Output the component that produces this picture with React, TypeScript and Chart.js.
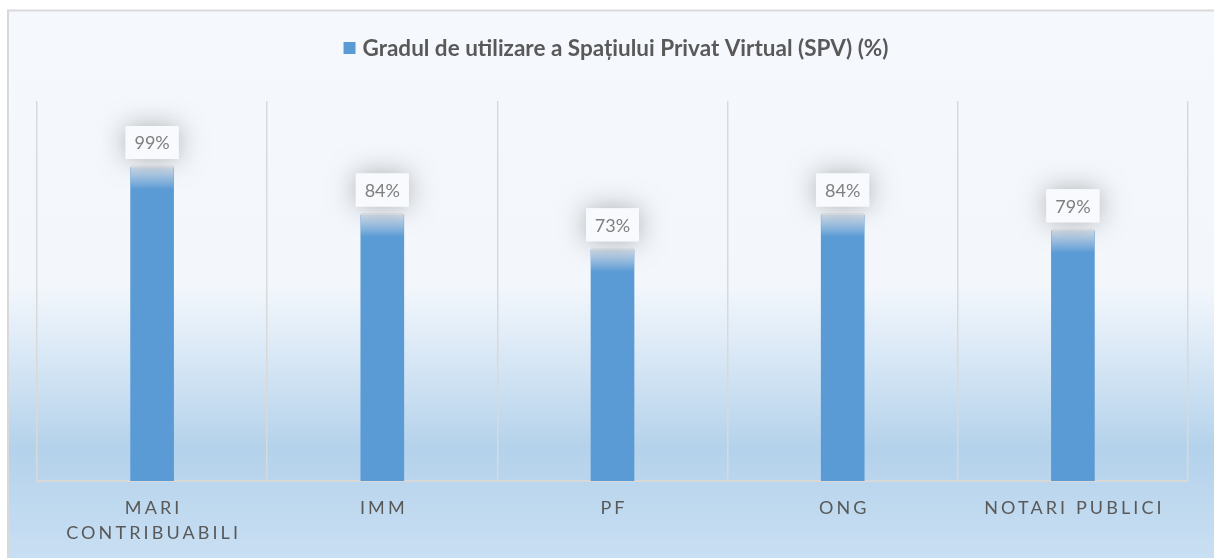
import React, { useEffect, useRef } from "react";
import { Chart, registerables } from "chart.js";

Chart.register(...registerables);

const categories = ["MARI CONTRIBUABILI", "IMM", "PF", "ONG", "NOTARI PUBLICI"];
const values = [99, 84, 73, 84, 79];
const seriesLabel = "Gradul de utilizare a Spațiului Privat Virtual (SPV) (%)";
const valueSuffix = "%";

const BLUE = "#5b9bd5";
const GRID = "#d9d9d9";
const TEXT = "#595959";

const bgPlugin = {
  id: "bgFrame",
  beforeDraw(chart: any) {
    const { ctx, width, height } = chart;
    ctx.save();
    const g = ctx.createLinearGradient(0, 11, 0, height);
    g.addColorStop(0, "#f5f9fd");
    g.addColorStop(0.5, "#f3f7fc");
    g.addColorStop(0.62, "#dbe9f6");
    g.addColorStop(0.8, "#b4d2eb");
    g.addColorStop(1, "#c9dff3");
    ctx.fillStyle = g;
    ctx.fillRect(8, 11, width - 8, height - 11);
    ctx.strokeStyle = GRID;
    ctx.lineWidth = 2;
    ctx.beginPath();
    ctx.moveTo(8, height);
    ctx.lineTo(8, 10.5);
    ctx.lineTo(width, 10.5);
    ctx.stroke();
    ctx.restore();
  },
};

const labelsPlugin = {
  id: "valueLabels",
  afterDatasetsDraw(chart: any) {
    const { ctx } = chart;
    const meta = chart.getDatasetMeta(0);
    const ds = chart.data.datasets[0];
    meta.data.forEach((el: any, i: number) => {
      const x = el.x;
      const y = el.y;
      ctx.save();
      // fade at bar top
      const fg = ctx.createLinearGradient(0, y - 2, 0, y + 22);
      fg.addColorStop(0, "rgba(228,232,238,0.95)");
      fg.addColorStop(1, "rgba(228,232,238,0)");
      ctx.fillStyle = fg;
      ctx.fillRect(x - el.width / 2, y - 2, el.width, 24);
      // box with glow
      const bw = 53;
      const bh = 33;
      const cy = y - 25;
      ctx.shadowColor = "rgba(0,0,0,0.3)";
      ctx.shadowBlur = 26;
      ctx.fillStyle = "#f8fafd";
      ctx.fillRect(x - bw / 2, cy - bh / 2, bw, bh);
      ctx.shadowBlur = 0;
      ctx.shadowColor = "transparent";
      ctx.fillRect(x - bw / 2, cy - bh / 2, bw, bh);
      ctx.fillStyle = "#7f7f7f";
      ctx.font = "18px Lato";
      ctx.textAlign = "center";
      ctx.textBaseline = "middle";
      ctx.fillText(ds.data[i] + valueSuffix, x, cy + 1);
      ctx.restore();
    });
  },
  afterDraw(chart: any) {
    const { ctx, chartArea } = chart;
    const xScale = chart.scales.x;
    ctx.save();
    // x labels with letter spacing
    const spacing = 3.1;
    ctx.font = "18px Lato";
    (ctx as any).letterSpacing = spacing + "px";
    ctx.fillStyle = TEXT;
    ctx.textBaseline = "middle";
    ctx.textAlign = "left";
    const catW = (chartArea.right - chartArea.left) / categories.length;
    const measure = (s: string) => ctx.measureText(s).width - spacing;
    (chart.data.labels as string[]).forEach((lab: string, i: number) => {
      const words = lab.split(" ");
      const lines: string[] = [];
      let cur = "";
      words.forEach((w) => {
        const t = cur ? cur + " " + w : w;
        if (measure(t) > catW - 4 && cur) {
          lines.push(cur);
          cur = w;
        } else cur = t;
      });
      if (cur) lines.push(cur);
      const x = xScale.getPixelForValue(i);
      lines.forEach((ln, k) => {
        const w = measure(ln);
        ctx.fillText(ln, x - w / 2, 508 + k * 25);
      });
    });
    (ctx as any).letterSpacing = "0px";
    // title legend
    ctx.font = "bold 22.5px Lato";
    const tw = ctx.measureText(seriesLabel).width;
    const box = 12;
    const gap = 7;
    const total = box + gap + tw;
    const cx = 616;
    const sx = cx - total / 2;
    ctx.fillStyle = BLUE;
    ctx.fillRect(sx, 42, box, box);
    ctx.fillStyle = TEXT;
    ctx.textBaseline = "middle";
    ctx.fillText(seriesLabel, sx + box + gap, 49);
    ctx.restore();
  },
};

export default function App() {
  const ref = useRef<HTMLCanvasElement>(null);
  useEffect(() => {
    if (!ref.current) return;
    const chart = new Chart(ref.current, {
      type: "bar",
      data: {
        labels: categories,
        datasets: [
          {
            label: seriesLabel,
            data: values,
            backgroundColor: BLUE,
            barThickness: 43,
          },
        ],
      },
      options: {
        animation: false,
        responsive: false,
        devicePixelRatio: 1,
        layout: { padding: { left: 37, right: 26, top: 101, bottom: 77 } },
        plugins: {
          legend: { display: false },
          tooltip: { enabled: false },
        },
        scales: {
          x: {
            offset: true,
            grid: {
              display: true,
              offset: true,
              color: GRID,
              lineWidth: 1.5,
              drawTicks: false,
            },
            border: { display: true, color: GRID, width: 2 },
            ticks: { display: false },
          },
          y: {
            display: false,
            min: 0,
            max: 120,
          },
        },
      },
      plugins: [bgPlugin, labelsPlugin],
    });
    return () => chart.destroy();
  }, []);
  return (
    <div style={{ position: "fixed", left: 0, top: 0, width: 1214, height: 558 }}>
      <canvas ref={ref} width={1214} height={558} style={{ display: "block" }} />
    </div>
  );
}
